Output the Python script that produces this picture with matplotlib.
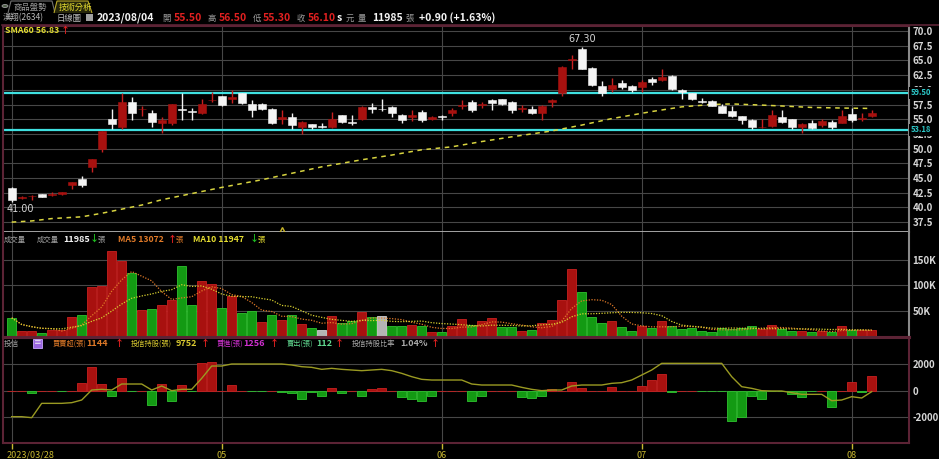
"""
漢翔(2634) daily chart: candles + SMA60, volume with MA5/MA10, 投信 net buy/sell.
"""

import numpy as np
import pandas as pd
import matplotlib
matplotlib.use("Agg")
import matplotlib.pyplot as plt
import matplotlib.transforms as mtransforms
from matplotlib.patches import Polygon, Rectangle, Circle

plt.rcParams["font.family"] = ["Noto Sans CJK TC", "DejaVu Sans"]

# ── Data ────────────────────────────────────────────────────
holidays = ["2023-04-03", "2023-04-04", "2023-04-05", "2023-05-01",
            "2023-06-22", "2023-06-23", "2023-08-03"]
dates = pd.bdate_range("2023-03-28", "2023-08-04")
dates = dates[~dates.isin(pd.to_datetime(holidays))]

opens = [43.35, 41.6, 41.9, 42.2, 42.1, 42.2, 43.8, 44.9, 46.9, 49.9,
         55.0, 53.7, 58.0, 56.7, 56.0, 54.4, 54.4, 56.7, 56.4, 56.0,
         58.2, 58.9, 58.5, 59.4, 57.6, 57.6, 56.7, 55.0, 55.3, 53.7,
         54.1, 53.7, 53.7, 55.7, 54.5, 55.0, 57.1, 56.7, 57.1, 55.8,
         55.3, 56.2, 55.0, 55.6, 56.0, 57.3, 58.0, 57.4, 58.3, 58.4,
         58.0, 56.8, 56.7, 56.1, 57.9, 59.5, 65.1, 66.9, 63.7, 60.6,
         60.1, 61.1, 60.7, 60.5, 61.8, 61.7, 62.4, 60.0, 59.4, 58.0,
         58.1, 57.3, 56.4, 55.5, 54.9, 53.6, 53.9, 55.3, 55.0, 53.6,
         54.4, 54.0, 54.6, 54.4, 55.9, 55.0, 55.5]
highs = [43.4, 41.9, 42.1, 42.2, 42.6, 42.7, 44.3, 45.3, 48.2, 53.0,
         56.7, 59.4, 58.8, 57.3, 56.6, 55.3, 57.6, 59.4, 56.9, 58.4,
         59.7, 59.0, 60.0, 59.5, 58.3, 57.7, 56.9, 56.5, 56.0, 54.7,
         54.2, 54.3, 56.3, 55.8, 55.7, 57.2, 57.7, 58.5, 57.2, 55.9,
         56.6, 56.5, 55.5, 55.7, 56.9, 58.2, 58.2, 58.0, 58.4, 58.5,
         58.1, 57.4, 57.2, 57.4, 58.5, 64.0, 66.0, 67.3, 63.9, 61.5,
         62.0, 61.7, 60.8, 61.6, 62.2, 63.5, 62.5, 60.1, 59.5, 58.6,
         58.2, 57.6, 57.2, 55.6, 55.0, 55.1, 56.6, 56.6, 55.1, 54.3,
         54.8, 55.0, 54.8, 56.5, 56.9, 56.0, 56.5]
lows = [41.0, 41.4, 41.2, 41.7, 41.9, 42.1, 43.2, 43.5, 46.1, 49.5,
        53.3, 53.4, 54.8, 55.5, 53.7, 52.6, 54.0, 54.9, 54.9, 55.9,
        57.9, 57.3, 57.7, 57.6, 55.3, 56.6, 54.2, 54.2, 53.3, 52.5,
        53.3, 53.5, 53.5, 54.4, 54.0, 54.9, 56.0, 56.4, 55.4, 54.3,
        54.7, 54.6, 54.8, 54.8, 55.5, 56.7, 56.3, 56.9, 56.6, 57.4,
        56.1, 56.2, 55.9, 54.9, 57.1, 58.9, 63.5, 63.5, 60.6, 58.9,
        59.7, 60.2, 59.7, 59.7, 60.8, 61.5, 60.0, 58.4, 58.3, 57.7,
        57.2, 56.0, 55.3, 54.1, 53.4, 53.5, 53.6, 54.4, 53.4, 52.7,
        53.3, 53.7, 53.3, 54.3, 54.6, 54.7, 55.3]
closes = [41.3, 41.7, 42.0, 41.8, 42.2, 42.6, 44.3, 43.8, 48.2, 53.0,
          54.2, 58.0, 56.0, 56.8, 54.5, 54.9, 57.6, 56.6, 56.3, 57.6,
          58.3, 57.4, 58.7, 57.7, 56.5, 56.7, 54.4, 55.3, 54.0, 54.5,
          53.7, 53.7, 55.0, 54.5, 54.4, 57.0, 56.7, 56.7, 56.0, 54.8,
          55.8, 54.8, 55.4, 55.3, 56.6, 57.4, 56.5, 57.5, 57.8, 57.6,
          56.6, 56.9, 56.0, 57.3, 58.3, 63.9, 65.3, 63.5, 60.8, 59.5,
          60.8, 60.5, 60.0, 61.4, 61.3, 62.1, 60.1, 59.6, 58.4, 57.9,
          57.3, 56.1, 55.6, 54.8, 53.6, 53.7, 55.7, 54.5, 53.6, 54.1,
          53.5, 54.7, 53.7, 55.5, 54.8, 55.2, 56.1]
volume = [36600, 10500, 10500, 6500, 13000, 13000, 37900, 42500, 96700, 98700,
          168600, 149000, 124000, 51000, 53000, 62700, 72500, 139000, 62700, 109800,
          103000, 55600, 79000, 45800, 49700, 28000, 42500, 32700, 42500, 24800,
          16300, 13700, 39900, 26000, 30000, 47700, 37900, 39900, 19600, 20300,
          21600, 19600, 8500, 8500, 20300, 34600, 22900, 29400, 36000, 18300,
          18300, 9800, 13000, 26000, 31400, 71900, 132700, 86900, 37900, 26000,
          30000, 18300, 10500, 19600, 16300, 30000, 19600, 15000, 16000, 10000,
          8500, 16000, 15000, 16000, 20000, 15000, 22000, 15000, 10000, 11000,
          8500, 10000, 9000, 20000, 12000, 12000, 11985]
# 投信買賣超 (張) and 投信持股 (張)
trust_net = [30, 20, -180, 20, 20, -30, 20, 580, 1840, 530,
             -350, 960, -30, 0, -1060, 530, -730, 480, -30, 2140,
             2210, 0, 430, 0, -30, -30, 0, -50, -180, -600,
             -50, -350, 250, -180, 0, -350, 150, 250, 0, -430,
             -600, -730, -350, 20, 20, 0, -750, -350, 0, 0,
             0, -430, -500, -380, 150, 0, 700, 200, 0, 0,
             330, 0, 0, 400, 830, 1280, -50, 0, 0, -30,
             -30, -30, -2240, -1990, -350, -600, -20, -20, -250, -480,
             -30, 0, -1180, 0, 700, -50, 1144]
trust_hold = [5250, 5250, 5070, 7650, 7650, 7650, 7770, 8250, 10050, 10170,
              10050, 11130, 11130, 11130, 10050, 10770, 9930, 10170, 10170, 12150,
              14370, 14370, 14730, 14730, 14730, 14730, 14730, 14730, 14550, 14250,
              14130, 13770, 13950, 13770, 13650, 13530, 13650, 13770, 13530, 13050,
              12450, 11970, 11850, 11850, 11850, 11850, 11130, 10950, 10950, 10950,
              10950, 10530, 10170, 9930, 10050, 10050, 10770, 10950, 10950, 10950,
              11250, 11370, 11850, 12750, 13650, 14850, 14850, 14850, 14850, 14850,
              14850, 14850, 12450, 10650, 10350, 9930, 9870, 9870, 9570, 9270,
              9270, 9270, 8130, 8250, 8850, 8610, 9752]
# SMA60 (day index, value)
sma60_idx = [0, 2, 4, 7, 9, 11, 13, 15, 17, 19, 21, 25, 28, 31, 35, 38,
             41, 44, 47, 50, 54, 57, 60, 64, 67, 70, 72, 75, 77, 80, 83, 86]
sma60_val = [37.5, 37.7, 38.1, 38.4, 39.0, 39.7, 40.4, 41.3, 42.0, 42.7,
             43.4, 44.7, 45.8, 46.9, 48.1, 48.9, 49.8, 50.3, 51.2, 52.0,
             53.0, 54.0, 55.1, 56.3, 57.1, 57.5, 57.6, 57.4, 57.25, 57.0,
             56.9, 56.83]
levels = [59.50, 53.18]
event_idx = [27]

# ── Colours ─────────────────────────────────────────────────
RED, RED_EDGE = "#a8110f", "#c82020"
GREEN, GREEN_EDGE = "#139a13", "#2fc22f"
GRAY_BAR = "#b4b4b4"
WHITE = "#f4f4f4"
GRID = "#474747"
MAROON = "#5c2335"
LABEL = "#d6d6d6"
CYAN = "#3fe0e0"
YEL = "#e4dc30"
ORANGE = "#e07a28"
ARROW_UP = "#e02020"
ARROW_DN = "#20c020"

W, H = 939, 459
fig = plt.figure(figsize=(W / 100, H / 100), dpi=100, facecolor="black")


def box(x0, y0, x1, y1):
    return [x0 / W, 1 - y1 / H, (x1 - x0) / W, (y1 - y0) / H]


def ftext(x, y, s, color, size=6, bold=False, **kw):
    fig.text(x / W, 1 - y / H, s, color=color, fontsize=size,
             fontweight="bold" if bold else "normal", va="center", **kw)


ax_p = fig.add_axes(box(3, 26, 909, 231.7), facecolor="black")
ax_v = fig.add_axes(box(3, 231.7, 909, 337), facecolor="black", sharex=ax_p)
ax_i = fig.add_axes(box(3, 337, 909, 443), facecolor="black", sharex=ax_p)

x = np.arange(len(closes))
o, h, l, c = (np.asarray(a, float) for a in (opens, highs, lows, closes))
vol = np.asarray(volume, float)
net = np.asarray(trust_net, float)

# month starts; a month too close to the first date gets no label
month_pos = [0] + [i for i in range(10, len(dates))
                   if dates[i].month != dates[i - 1].month]
month_lab = [dates[0].strftime("%Y/%m/%d")] + [dates[i].strftime("%m")
                                                for i in month_pos[1:]]

ax_h = ax_i.twinx()

for ax in (ax_p, ax_v, ax_i):
    ax.set_xlim(-0.87, 89.73)
    for mp in month_pos:
        ax.axvline(mp, color=GRID, lw=0.8, zorder=0)
    ax.yaxis.tick_right()
    ax.tick_params(axis="y", length=0, pad=2.5, colors=LABEL, labelsize=7)
    for sp in ax.spines.values():
        sp.set_color(MAROON)
        sp.set_linewidth(1.5)

# ── Price panel ─────────────────────────────────────────────
ax_p.set_ylim(35.87, 70.85)
price_ticks = np.arange(37.5, 70.1, 2.5)
ax_p.set_yticks(price_ticks)
ax_p.set_yticklabels([f"{t:.1f}" for t in price_ticks], fontweight="bold")
for t in price_ticks:
    ax_p.axhline(t, color=GRID, lw=0.8, zorder=0)
ax_p.tick_params(axis="x", bottom=False, labelbottom=False)
ax_p.spines["right"].set_color("#8a8a8a")
ax_p.spines["bottom"].set_color("#b0b0b0")
ax_p.spines["bottom"].set_linewidth(1.3)

for lv in levels:
    ax_p.axhline(lv, color=CYAN, lw=1.6, zorder=2)
    ax_p.text(1.002, lv, f"{lv:.2f}", transform=ax_p.get_yaxis_transform(),
              color="#2cc8c8", fontsize=5.5, fontweight="bold", va="center",
              clip_on=False, zorder=6,
              bbox=dict(facecolor="black", edgecolor="none", pad=1.2))

ax_p.plot(sma60_idx, sma60_val, color="#d8d440", lw=1.1,
          linestyle=(0, (3, 3)), zorder=2)

up = c > o
body_col = np.where(up, RED, WHITE)
ax_p.vlines(x, l, h, colors=np.where(up, RED_EDGE, WHITE), lw=1, zorder=3)
ax_p.bar(x, np.maximum(np.abs(c - o), 0.12), bottom=np.minimum(o, c),
         width=0.8, color=body_col, edgecolor=body_col, lw=0.4, zorder=4)

hi = int(np.argmax(h))
ax_p.annotate(f"{h[hi]:.2f}", (hi, h[hi]), xytext=(0, 2),
              textcoords="offset points", ha="center", va="bottom",
              color=LABEL, fontsize=7, family="DejaVu Sans")
lo = int(np.argmin(l))
ax_p.annotate(f"{l[lo]:.2f}", (lo, l[lo]), xytext=(-4, -1.5),
              textcoords="offset points", ha="left", va="top",
              color=LABEL, fontsize=7, family="DejaVu Sans")

ax_p.plot(event_idx, [35.95] * len(event_idx), marker="^", ms=6,
          mfc="none", mec="#c8b428", mew=1, ls="none", clip_on=False, zorder=5)

# ── Volume panel ────────────────────────────────────────────
diff = np.diff(c, prepend=o[0])
vcol = np.where(diff > 1e-9, RED, np.where(diff < -1e-9, GREEN, GRAY_BAR))
vedge = np.where(diff > 1e-9, RED_EDGE, np.where(diff < -1e-9, GREEN_EDGE, "#d0d0d0"))
ax_v.set_ylim(-1000, 205500)
vol_ticks = [50000, 100000, 150000]
ax_v.set_yticks(vol_ticks)
ax_v.set_yticklabels([f"{t // 1000}K" for t in vol_ticks], fontweight="bold")
for t in vol_ticks:
    ax_v.axhline(t, color=GRID, lw=0.8, zorder=0)
ax_v.bar(x, vol, width=0.85, color=vcol, edgecolor=vedge, lw=0.6, zorder=3)
vs = pd.Series(vol)
ma5 = vs.rolling(5, min_periods=1).mean()
ma10 = vs.rolling(10, min_periods=1).mean()
ax_v.plot(x, ma5, color=ORANGE, lw=0.9, linestyle=(0, (1, 1.2)), zorder=4)
ax_v.plot(x, ma10, color="#d8d030", lw=0.9, linestyle=(0, (1, 1.2)), zorder=4)
ax_v.tick_params(axis="x", bottom=False, labelbottom=False)
ax_v.spines["top"].set_visible(False)
ax_v.spines["right"].set_color("#8a8a8a")
ax_v.spines["bottom"].set_linewidth(2.2)

# ── 投信 panel ──────────────────────────────────────────────
ax_i.set_ylim(-3925, 4075)
ind_ticks = [-2000, 0, 2000]
ax_i.set_yticks(ind_ticks)
ax_i.set_yticklabels([str(t) for t in ind_ticks], fontweight="bold")
for t in ind_ticks:
    ax_i.axhline(t, color=GRID, lw=0.8, zorder=0)
ncol = np.where(net >= 0, RED, GREEN)
nedge = np.where(net >= 0, RED_EDGE, GREEN_EDGE)
ax_i.bar(x, net, width=0.85, color=ncol, edgecolor=nedge, lw=0.6, zorder=3)
ax_h.set_ylim(512, 19592)
ax_h.plot(x, trust_hold, color="#9a9a22", lw=1, zorder=4)
ax_h.axis("off")
ax_i.spines["top"].set_linewidth(2.2)
ax_i.spines["bottom"].set_linewidth(1.5)

ax_i.set_xticks(month_pos)
ax_i.set_xticklabels(month_lab)
ax_i.tick_params(axis="x", colors="#c8b830", length=4, width=1, pad=1.5,
                 labelsize=6.5, direction="out")
first = ax_i.get_xticklabels()[0]
first.set_horizontalalignment("left")
first.set_transform(first.get_transform()
                    + mtransforms.ScaledTranslation(-5 / 100, 0, fig.dpi_scale_trans))

# ── Header texts ────────────────────────────────────────────
fig.add_artist(plt.Line2D([2 / W, 1], [1 - 25 / H] * 2, color=MAROON, lw=1.2))
fig.add_artist(Circle((5 / W, 1 - 6 / H), 3 / W, transform=fig.transFigure,
                      facecolor="#50604a", edgecolor="#a0a0a0", lw=0.6))
tab1 = [(8, 13), (11, 1), (52, 1), (55, 13)]
tab2 = [(54, 13), (57, 1), (88, 1), (92, 13)]
fig.add_artist(Polygon([(a / W, 1 - b / H) for a, b in tab1], closed=False,
                       transform=fig.transFigure, fill=False,
                       edgecolor="#707070", lw=0.8))
fig.add_artist(Polygon([(a / W, 1 - b / H) for a, b in tab2], closed=False,
                       transform=fig.transFigure, facecolor="#26260a",
                       edgecolor="#b8a828", lw=0.8))
ftext(14, 7, "商品盤勢", "#9c9c9c", size=6)
ftext(59, 7, "技術分析", YEL, size=6)

ftext(3, 18, "漢翔(2634)", "#bcbcbc", size=6)
ftext(57, 18, "日線圖", "#bcbcbc", size=6)
fig.add_artist(Rectangle((86 / W, 1 - 21 / H), 7 / W, 7 / H,
                         transform=fig.transFigure, facecolor="#a0a0a0"))
ftext(97, 18, "2023/08/04", WHITE, size=7.5, bold=True)
quote = [(162, "開", 174, "55.50"), (207, "高", 219, "56.50"),
         (253, "低", 263, "55.30"), (297, "收", 308, "56.10")]
for xl, lab, xv, val in quote:
    ftext(xl, 18, lab, "#9c9c9c", size=6)
    ftext(xv, 18, val, "#e02020", size=7.5, bold=True)
ftext(337, 18, "s", WHITE, size=7.5, bold=True)
ftext(346, 18, "元", "#9c9c9c", size=6)
ftext(358, 18, "量", "#9c9c9c", size=6)
ftext(372, 18, "11985", WHITE, size=7.5, bold=True)
ftext(405, 18, "張", "#9c9c9c", size=6)
ftext(419, 18, "+0.90 (+1.63%)", WHITE, size=7.5, bold=True)

ftext(5, 30.5, "SMA60 56.83", YEL, size=6.3, bold=True)
ftext(61, 30.5, "↑", ARROW_UP, size=6.5, bold=True)

# volume header
vy = 239.5
ftext(4, vy, "成交量", "#a0a0a0", size=5.3)
ftext(37, vy, "成交量", "#a0a0a0", size=5.3)
ftext(63, vy, "11985", WHITE, size=6.5, bold=True)
ftext(90, vy, "↓", ARROW_DN, size=6.5, bold=True)
ftext(98, vy, "張", "#a0a0a0", size=5.3)
ftext(118, vy, "MA5 13072", ORANGE, size=6.3, bold=True)
ftext(168, vy, "↑", ARROW_UP, size=6.5, bold=True)
ftext(176, vy, "張", ORANGE, size=5.3)
ftext(193, vy, "MA10 11947", YEL, size=6.3, bold=True)
ftext(250, vy, "↓", ARROW_DN, size=6.5, bold=True)
ftext(258, vy, "張", YEL, size=5.3)

# 投信 header
iy = 343.5
ftext(4, iy, "投信", "#a0a0a0", size=5.5)
fig.add_artist(Rectangle((33 / W, 1 - 348 / H), 9 / W, 9 / H,
                         transform=fig.transFigure, facecolor="#9a66e0",
                         edgecolor="#c8a8ff", lw=0.6))
ftext(34, iy, "≡", WHITE, size=5.5)
hdr = [(53, "買賣超(張)", 86, "1144", 115, "#e07a28"),
       (131, "投信持股(張)", 176, "9752", 201, "#d8c830"),
       (217, "買進(張)", 243, "1256", 270, "#d030d0"),
       (287, "賣出(張)", 316, "112", 335, "#60d890"),
       (352, "投信持股比率", 400, "1.04%", 431, "#a8a8a8")]
for xl, lab, xv, val, xa, col in hdr:
    ftext(xl, iy, lab, col, size=5.2)
    ftext(xv, iy, val, col, size=6.5, bold=True)
    ftext(xa, iy, "↑", ARROW_UP, size=6.5, bold=True)

fig.savefig("out.png", dpi=100, facecolor="black")
